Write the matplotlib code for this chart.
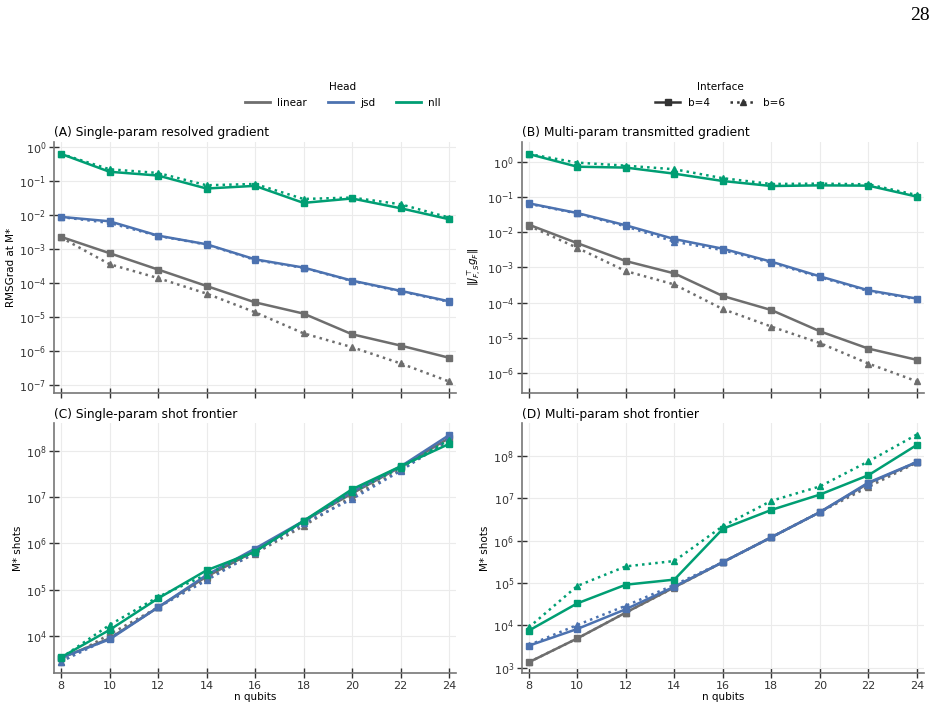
import matplotlib
matplotlib.use("Agg")
import matplotlib.pyplot as plt
from matplotlib.lines import Line2D
from matplotlib.ticker import LogLocator, NullLocator, LogFormatterMathtext

n_qubits = [8, 10, 12, 14, 16, 18, 20, 22, 24]
heads = ["linear", "jsd", "nll"]
colors = {"linear": "#6e6e6e", "jsd": "#4C72B0", "nll": "#009E73"}

# (A) single-param RMSGrad at M*
a_b4 = {
    "linear": [2.3e-3, 7.6e-4, 2.5e-4, 8.2e-5, 2.7e-5, 1.26e-5, 3.1e-6, 1.44e-6, 6.3e-7],
    "jsd": [8.9e-3, 6.6e-3, 2.5e-3, 1.39e-3, 5.0e-4, 2.86e-4, 1.18e-4, 5.9e-5, 2.9e-5],
    "nll": [0.64, 0.19, 0.147, 0.061, 0.073, 0.023, 0.031, 0.016, 0.0076],
}
a_b6 = {
    "linear": [2.2e-3, 3.6e-4, 1.4e-4, 4.9e-5, 1.38e-5, 3.3e-6, 1.29e-6, 4.3e-7, 1.26e-7],
    "jsd": [8.8e-3, 5.9e-3, 2.45e-3, 1.36e-3, 4.8e-4, 2.8e-4, 1.15e-4, 5.7e-5, 2.8e-5],
    "nll": [0.64, 0.225, 0.175, 0.076, 0.083, 0.030, 0.033, 0.021, 0.0085],
}

# (B) multi-param transmitted gradient
b_b4 = {
    "linear": [0.0164, 4.9e-3, 1.52e-3, 6.8e-4, 1.55e-4, 6.2e-5, 1.55e-5, 5.0e-6, 2.4e-6],
    "jsd": [0.066, 0.035, 0.0157, 6.4e-3, 3.4e-3, 1.46e-3, 5.6e-4, 2.25e-4, 1.31e-4],
    "nll": [1.65, 0.72, 0.68, 0.457, 0.283, 0.204, 0.213, 0.209, 0.102],
}
b_b6 = {
    "linear": [0.0153, 3.6e-3, 7.9e-4, 3.3e-4, 6.6e-5, 2.1e-5, 7.2e-6, 1.88e-6, 5.9e-7],
    "jsd": [0.064, 0.034, 0.0146, 5.4e-3, 3.1e-3, 1.37e-3, 5.3e-4, 2.15e-4, 1.25e-4],
    "nll": [1.65, 0.94, 0.77, 0.61, 0.34, 0.233, 0.238, 0.228, 0.113],
}

# (C) single-param shot frontier
c_b4 = {
    "linear": [3300, 8700, 4.1e4, 1.9e5, 6.8e5, 3.0e6, 1.2e7, 4.5e7, 1.9e8],
    "jsd": [3300, 8300, 4.1e4, 2.05e5, 7.7e5, 3.05e6, 1.3e7, 4.6e7, 2.2e8],
    "nll": [3400, 1.33e4, 6.4e4, 2.6e5, 6.6e5, 3.05e6, 1.48e7, 4.65e7, 1.42e8],
}
c_b6 = {
    "linear": [2700, 1.07e4, 4.1e4, 1.75e5, 6.0e5, 2.37e6, 1.03e7, 3.9e7, 1.67e8],
    "jsd": [2750, 8800, 4.1e4, 1.58e5, 6.3e5, 2.7e6, 9.1e6, 3.7e7, 1.8e8],
    "nll": [3300, 1.7e4, 6.9e4, 2.1e5, 6.6e5, 3.0e6, 1.27e7, 4.35e7, 1.73e8],
}

# (D) multi-param shot frontier
d_b4 = {
    "linear": [1340, 4900, 2.0e4, 7.9e4, 3.1e5, 1.2e6, 4.7e6, 2.25e7, 7.1e7],
    "jsd": [3300, 8200, 2.4e4, 8.2e4, 3.1e5, 1.2e6, 4.7e6, 2.35e7, 7.2e7],
    "nll": [7500, 3.3e4, 9.1e4, 1.2e5, 1.9e6, 5.3e6, 1.22e7, 3.5e7, 1.82e8],
}
d_b6 = {
    "linear": [1340, 4900, 2.0e4, 7.8e4, 3.1e5, 1.2e6, 4.7e6, 1.85e7, 7.0e7],
    "jsd": [3400, 1.02e4, 2.9e4, 9.0e4, 3.1e5, 1.2e6, 4.7e6, 2.1e7, 7.3e7],
    "nll": [8900, 8.5e4, 2.46e5, 3.3e5, 2.2e6, 8.7e6, 1.9e7, 7.4e7, 3.2e8],
}

panels = [
    ("(A) Single-param resolved gradient", a_b4, a_b6, "RMSGrad at M*", (10**-7.23, 10**0.165)),
    ("(B) Multi-param transmitted gradient", b_b4, b_b6, r"$\|J_{F,S}^{\top} g_F\|$", (10**-6.55, 10**0.567)),
    ("(C) Single-param shot frontier", c_b4, c_b6, "M* shots", (10**3.186, 10**8.6)),
    ("(D) Multi-param shot frontier", d_b4, d_b6, "M* shots", (10**2.868, 10**8.77)),
]

fig = plt.figure(figsize=(9.37, 7.12), dpi=100)
boxes = [
    [0.0576, 0.4485, 0.4291, 0.3525],
    [0.5568, 0.4485, 0.4293, 0.3525],
    [0.0576, 0.0544, 0.4291, 0.3511],
    [0.5568, 0.0544, 0.4293, 0.3511],
]

for i, (title, s4, s6, ylabel, ylim) in enumerate(panels):
    ax = fig.add_axes(boxes[i])
    for h in heads:
        ax.plot(n_qubits, s4[h], "-", marker="s", color=colors[h], lw=1.8, ms=5)
        ax.plot(n_qubits, s6[h], ":", marker="^", color=colors[h], lw=1.8, ms=5)
    ax.set_yscale("log")
    ax.set_ylim(*ylim)
    ax.set_xlim(7.71, 24.29)
    ax.yaxis.set_major_locator(LogLocator(base=10, subs=(1.0,), numticks=20))
    ax.yaxis.set_minor_locator(NullLocator())
    ax.yaxis.set_major_formatter(LogFormatterMathtext())
    ax.set_xticks(n_qubits)
    if i >= 2:
        ax.set_xlabel("n qubits", fontsize=7.5, labelpad=1)
    else:
        ax.set_xticklabels([])
    ax.set_ylabel(ylabel, fontsize=7.5, labelpad=2)
    ax.set_title(title, loc="left", fontsize=8.8, pad=4)
    ax.grid(True, color="#ebebeb", lw=0.8)
    ax.set_axisbelow(True)
    for side in ("top", "right"):
        ax.spines[side].set_visible(False)
    for side in ("left", "bottom"):
        ax.spines[side].set_color("#777777")
        ax.spines[side].set_linewidth(1.2)
    ax.tick_params(direction="inout", length=7, width=1.0, color="#333333",
                   labelsize=8, labelcolor="#333333", pad=2)

head_handles = [Line2D([], [], color=colors[h], lw=2) for h in heads]
fig.legend(head_handles, heads, title="Head", loc="center", ncol=3,
           bbox_to_anchor=(343 / 937, 1 - 95 / 712), frameon=False,
           fontsize=7.5, title_fontsize=7.5, handlelength=2.4, handletextpad=0.7,
           columnspacing=2.0)

iface_handles = [
    Line2D([], [], color="#333333", ls="-", marker="s", lw=1.8, ms=4.5),
    Line2D([], [], color="#333333", ls=":", marker="^", lw=1.8, ms=4.5),
]
fig.legend(iface_handles, ["b=4", "b=6"], title="Interface", loc="center", ncol=2,
           bbox_to_anchor=(720 / 937, 1 - 95 / 712), frameon=False,
           fontsize=7.5, title_fontsize=7.5, handlelength=2.4, handletextpad=0.7,
           columnspacing=2.0)

fig.text(930 / 937, 1 - 7 / 712, "28", ha="right", va="top",
         family="Liberation Serif", fontsize=14)

fig.savefig("out.png", dpi=100)
